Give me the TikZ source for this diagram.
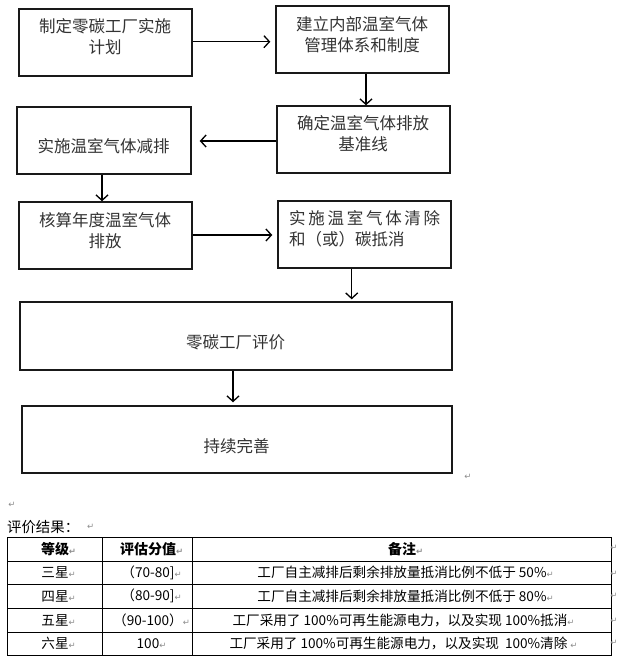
\documentclass[tikz,border=0pt]{standalone}
\usepackage{fontspec}
\setmainfont{Noto Sans CJK SC}
\newfontfamily\dejavu{DejaVu Sans}
\usetikzlibrary{arrows.meta}
\newcommand\paramark{\textcolor{black!45}{\dejavu\fontsize{8.5}{8.5}\selectfont ↵}}
\newcommand\pmr{\rlap{\paramark}}
\tikzset{
  box/.style={draw=black!90, line width=1.4pt, minimum width=173pt, minimum height=67pt, inner sep=0pt},
  arr/.style={line width=1.3pt, -{Straight Barb[length=5.5pt,width=12pt]}},
  txt/.style={font=\fontsize{16.5}{21}\selectfont, text=black!80, inner sep=0pt, align=center},
  cell/.style={font=\fontsize{13.6}{16}\selectfont, text=black, inner sep=0pt},
  hcell/.style={cell, font=\fontsize{14}{16}\selectfont\bfseries},
  tline/.style={draw=black, line width=0.9pt},
  pm/.style={inner sep=0pt, font=\dejavu\fontsize{8.5}{8.5}\selectfont, text=black!45}
}
\begin{document}
\begin{tikzpicture}[x=1pt,y=-1pt]
\fill[white] (0,0) rectangle (627,666);
\useasboundingbox (0,0) rectangle (627,666);

% boxes
\node[box] (b1) at (105.5,42.5) {};
\node[box] (b2) at (362.5,39.5) {};
\node[box] (b3) at (363.5,139.5) {};
\node[box, minimum width=174pt] (b4) at (104,140.5) {};
\node[box] (b5) at (105.5,235.5) {};
\node[box] (b6) at (364.5,234.5) {};
\node[box, minimum width=432pt, minimum height=68pt] (b7) at (236,336) {};
\node[box, minimum width=430pt] (b8) at (237,439.5) {};

% texts
\node[txt] (t1) at (105,36.5) {制定零碳工厂实施\\计划};
\node[txt] (t2) at (362,34.5) {建立内部温室气体\\管理体系和制度};
\node[txt] (t3) at (363,134) {确定温室气体排放\\基准线};
\node[txt] (t4) at (103.5,146) {实施温室气体减排};
\node[txt] (t5) at (105,230.5) {核算年度温室气体\\排放};
\node[txt, align=left, anchor=west] (t6) at (289,228.5) {\hbox to 151pt{实\hfil 施\hfil 温\hfil 室\hfil 气\hfil 体\hfil 清\hfil 除}\\和（或）碳抵消};
\node[txt] (t7) at (235.5,342.7) {零碳工厂评价};
\node[txt] (t8) at (236.7,445.7) {持续完善};

% arrows
\draw[arr, shorten >=5pt] (b1.east |- 0,41.7) -- (b2.west |- 0,41.7);
\draw[arr] (b2.south -| 366,0) -- (b3.north -| 366,0);
\draw[arr, shorten >=8pt] (b3.west |- 0,141) -- (b4.east |- 0,141);
\draw[arr] (b4.south -| 102,0) -- (b5.north -| 102,0);
\draw[arr, shorten >=5pt] (b5.east |- 0,235) -- (b6.west |- 0,235);
\draw[arr, shorten >=2pt] (b6.south -| 351.7,0) -- (b7.north -| 351.7,0);
\draw[arr, shorten >=3pt] (b7.south -| 233,0) -- (b8.north -| 233,0);

\node[pm] (m0) at (468,477) {↵};
\node[pm] (m1) at (12,505) {↵};
\node[cell, anchor=west, font=\fontsize{14.4}{16}\selectfont] (title) at (7,527) {评价结果：};
\node[pm] (m2) at (90.7,527) {↵};

% table
\draw[tline] (7.3,537.3) rectangle (611,655.3);
\foreach \yy in {561,584.3,608.3,632} \draw[tline] (7.3,\yy) -- (611,\yy);
\draw[tline] (102.7,537.3) -- (102.7,655.3);
\draw[tline] (192.7,537.3) -- (192.7,655.3);

\node[hcell] (h1) at (55,549) {等级\pmr};
\node[hcell] (h2) at (148,549) {评估分值\pmr};
\node[hcell] (h3) at (402,549) {备注\pmr};

\node[cell] (r1a) at (55,572.7) {三星\pmr};
\node[cell] (r1b) at (148,572.7) {（70-80]\pmr};
\node[cell] (r1c) at (402,572.7) {工厂自主减排后剩余排放量抵消比例不低于 50\%\pmr};

\node[cell] (r2a) at (55,596.3) {四星\pmr};
\node[cell] (r2b) at (148,596.3) {（80-90]\pmr};
\node[cell] (r2c) at (402,596.3) {工厂自主减排后剩余排放量抵消比例不低于 80\%\pmr};

\node[cell] (r3a) at (55,620) {五星\pmr};
\node[cell] (r3b) at (148,620) {（90-100）\pmr};
\node[cell] (r3c) at (400,620) {工厂采用了 100\%可再生能源电力，以及实现 100\%抵消\pmr};

\node[cell] (r4a) at (55,643.7) {六星\pmr};
\node[cell] (r4b) at (148,643.7) {100\pmr};
\node[cell] (r4c) at (400,643.7) {工厂采用了 100\%可再生能源电力，以及实现\ \ 100\%清除\ \pmr};

\foreach \yy/\nn in {548/e1,574/e2,596/e3,621/e4,643/e5} \node[pm] (\nn) at (614,\yy) {↵};
\end{tikzpicture}
\end{document}
